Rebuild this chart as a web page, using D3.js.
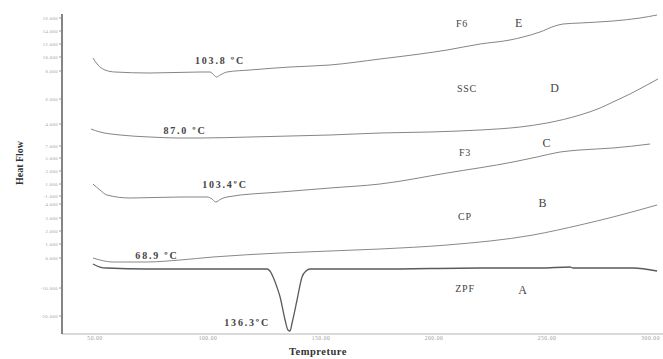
<!DOCTYPE html>
<html>
<head>
<meta charset="utf-8">
<script src="https://cdn.jsdelivr.net/npm/d3@7"></script>
<style>
  body { margin: 0; background: #fff; }
  svg { display: block; }
  text { font-family: "Liberation Serif", "DejaVu Serif", serif; }
</style>
</head>
<body>
<div id="chart"></div>
<script>
// Temperature (°C) and heat flow (stacked, arbitrary units) for each sample
const zpf = [
  [49.1, 7.0], [52.2, 6.7], [55.3, 6.6], [73.0, 6.5], [126.1, 6.5], [127.4, 6.3],
  [128.8, 5.7], [130.5, 4.7], [131.9, 3.7], [134.1, 1.4], [135.4, 0.4], [136.3, 0.3],
  [137.2, 1.1], [139.4, 3.4], [141.6, 5.7], [143.4, 6.3], [145.1, 6.5], [176.1, 6.5],
  [220.4, 6.6], [246.9, 6.6], [260.2, 6.7], [261.5, 6.6], [288.1, 6.6], [298.7, 6.3]
];
const cp = [
  [49.1, 7.6], [52.2, 7.4], [58.0, 7.2], [73.0, 7.2], [87.6, 7.4], [102.2, 7.7],
  [131.9, 8.1], [176.1, 8.5], [205.8, 8.9], [243.8, 9.9], [264.6, 10.9], [279.2, 11.7],
  [298.7, 12.9]
];
const f3 = [
  [49.1, 15.0], [52.2, 14.4], [55.3, 13.9], [65.5, 13.6], [87.6, 13.7], [99.6, 13.7],
  [101.8, 13.5], [103.4, 13.2], [105.8, 13.5], [108.4, 13.7], [131.9, 14.2], [154.0, 14.6],
  [176.1, 15.0], [205.8, 16.1], [235.0, 17.2], [245.6, 17.7], [255.8, 18.2], [264.6, 18.4],
  [279.2, 18.6], [295.6, 19.0]
];
const ssc = [
  [48.2, 20.5], [52.2, 20.2], [61.1, 19.9], [74.3, 19.7], [87.0, 19.6], [96.5, 19.6],
  [118.6, 19.7], [136.3, 19.8], [154.0, 19.9], [176.1, 20.1], [198.2, 20.2], [220.4, 20.4],
  [238.1, 20.7], [250.0, 21.1], [264.6, 21.9], [273.5, 22.6], [279.2, 23.2], [286.7, 24.0],
  [293.4, 24.8], [299.1, 25.5]
];
const f6 = [
  [49.1, 27.6], [51.3, 26.9], [54.4, 26.4], [58.8, 26.2], [74.3, 26.1], [96.5, 26.2],
  [100.9, 26.2], [102.6, 25.9], [103.8, 25.7], [105.4, 25.9], [108.4, 26.2], [118.6, 26.4],
  [136.3, 26.7], [154.0, 26.9], [176.1, 27.5], [193.8, 28.0], [205.8, 28.4], [220.4, 29.0],
  [233.6, 29.4], [239.4, 29.7], [246.9, 30.2], [253.5, 30.8], [257.1, 31.0], [264.6, 31.1],
  [279.2, 31.3], [291.2, 31.6], [298.7, 31.9]
];

const xTicks = [50, 100, 150, 200, 250, 300];
const yTicks = [31.6, 30.3, 29.0, 27.7, 26.3, 23.5, 21.0, 18.8, 17.6, 16.3,
                15.0, 13.8, 13.0, 11.6, 10.3, 9.0, 7.6, 4.6, 1.8];
const yTickLabels = ["16.000", "14.000", "12.000", "10.000", "8.000", "6.000", "4.000",
                     "7.000", "5.000", "3.000", "1.000", "-1.000", "4.000", "3.000",
                     "2.000", "1.000", "0.000", "-10.000", "-20.000"];

// sample name, letter, and where their labels sit (°C, heat flow)
const curveLabels = [
  { text: "F6", t: 212.4, hf: 31.1, size: 10 },
  { text: "E", t: 237.6, hf: 31.1, size: 12 },
  { text: "SSC", t: 214.6, hf: 24.6, size: 10 },
  { text: "D", t: 253.5, hf: 24.6, size: 12 },
  { text: "F3", t: 213.7, hf: 18.2, size: 10 },
  { text: "C", t: 250.0, hf: 19.1, size: 12 },
  { text: "CP", t: 213.7, hf: 11.8, size: 10 },
  { text: "B", t: 248.2, hf: 13.1, size: 12 },
  { text: "ZPF", t: 213.7, hf: 4.6, size: 10 },
  { text: "A", t: 239.4, hf: 4.4, size: 12 }
];
const peakLabels = [
  { text: "103.8 ºC", t: 105.3, hf: 27.4 },
  { text: "87.0 ºC", t: 89.8, hf: 20.4 },
  { text: "103.4ºC", t: 107.5, hf: 15.0 },
  { text: "68.9 ºC", t: 77.4, hf: 7.9 },
  { text: "136.3ºC", t: 117.3, hf: 1.2 }
];

const width = 663, height = 359;
const axisX = 62, axisBottom = 334;

const x = d3.scaleLinear().domain([50, 300]).range([95, 660]);
const y = d3.scaleLinear().domain([0, 32]).range([334, 14]);

const svg = d3.select("#chart").append("svg")
    .attr("width", width)
    .attr("height", height);

// bottom axis
svg.append("line")
    .attr("x1", axisX).attr("x2", width)
    .attr("y1", axisBottom).attr("y2", axisBottom)
    .attr("stroke", "#b5b5b5").attr("stroke-width", 1.2);

svg.append("g").selectAll("text")
    .data(xTicks)
    .join("text")
    .attr("x", d => x(d))
    .attr("y", axisBottom + 6)
    .attr("text-anchor", (d, i) => i === xTicks.length - 1 ? "end" : "middle")
    .attr("font-size", 5.5)
    .attr("fill", "#999")
    .attr("letter-spacing", 0.6)
    .text(d => d.toFixed(2));

// left axis
svg.append("line")
    .attr("x1", axisX).attr("x2", axisX)
    .attr("y1", 14).attr("y2", axisBottom)
    .attr("stroke", "#666").attr("stroke-width", 1.6);

const yt = svg.append("g").selectAll("g")
    .data(yTicks)
    .join("g")
    .attr("transform", d => `translate(${axisX},${y(d)})`);
yt.append("line")
    .attr("x1", -3).attr("x2", 1)
    .attr("stroke", "#888").attr("stroke-width", 0.8);
yt.append("text")
    .attr("x", -4)
    .attr("dy", "0.35em")
    .attr("text-anchor", "end")
    .attr("font-size", 4.5)
    .attr("fill", "#9a9a9a")
    .attr("letter-spacing", 0.5)
    .text((d, i) => yTickLabels[i]);

// titles
svg.append("text")
    .attr("x", 318).attr("y", 355)
    .attr("text-anchor", "middle")
    .attr("font-size", 10.5)
    .attr("font-weight", "bold")
    .attr("fill", "#333")
    .attr("letter-spacing", 0.5)
    .text("Tempreture");

svg.append("text")
    .attr("transform", "translate(23,163) rotate(-90)")
    .attr("text-anchor", "middle")
    .attr("font-size", 10)
    .attr("font-weight", "bold")
    .attr("fill", "#333")
    .text("Heat Flow");

// curves
const line = d3.line()
    .x(d => x(d[0]))
    .y(d => y(d[1]))
    .curve(d3.curveMonotoneX);

const series = [
  { data: f6, w: 0.9, c: "#777" },
  { data: ssc, w: 0.9, c: "#777" },
  { data: f3, w: 0.9, c: "#777" },
  { data: cp, w: 0.9, c: "#7a7a7a" },
  { data: zpf, w: 1.3, c: "#5a5a5a" }
];

svg.append("g").selectAll("path")
    .data(series)
    .join("path")
    .attr("d", d => line(d.data))
    .attr("fill", "none")
    .attr("stroke", d => d.c)
    .attr("stroke-width", d => d.w);

svg.append("g").selectAll("text")
    .data(curveLabels)
    .join("text")
    .attr("x", d => x(d.t))
    .attr("y", d => y(d.hf))
    .attr("dy", "0.35em")
    .attr("text-anchor", "middle")
    .attr("font-size", d => d.size)
    .attr("fill", "#444")
    .attr("letter-spacing", 0.8)
    .text(d => d.text);

svg.append("g").selectAll("text")
    .data(peakLabels)
    .join("text")
    .attr("x", d => x(d.t))
    .attr("y", d => y(d.hf))
    .attr("dy", "0.35em")
    .attr("text-anchor", "middle")
    .attr("font-size", 10)
    .attr("font-weight", "bold")
    .attr("fill", "#444")
    .attr("letter-spacing", 1.8)
    .text(d => d.text);
</script>
</body>
</html>
